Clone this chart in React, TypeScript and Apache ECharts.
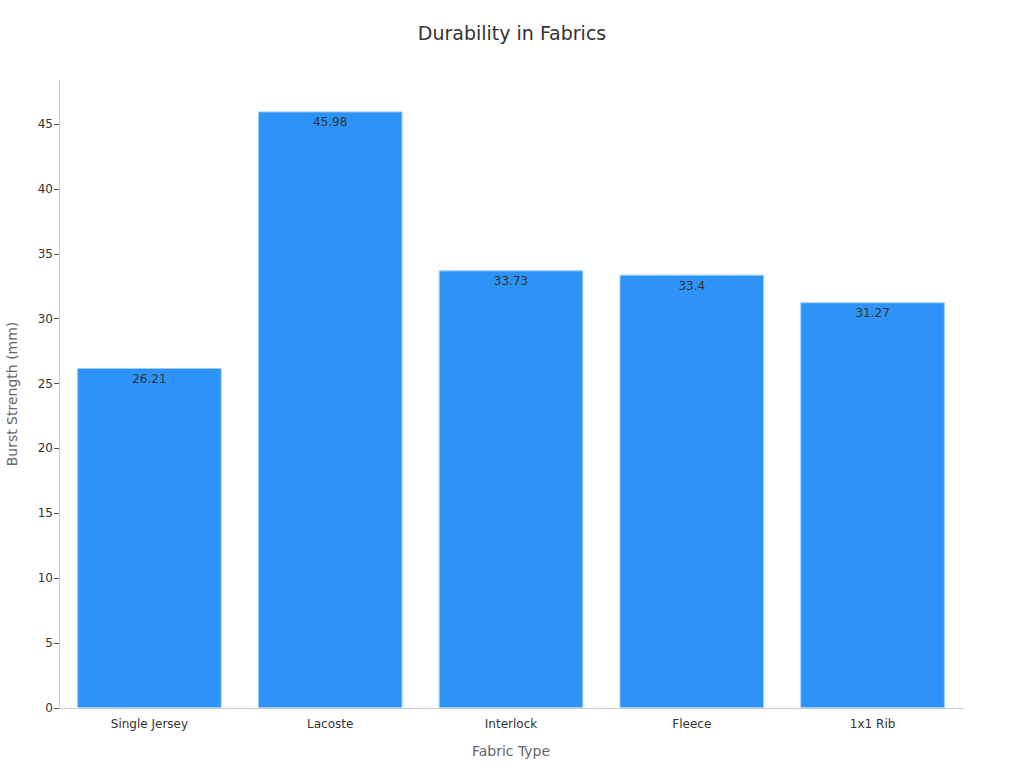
import React, { useEffect, useRef } from "react";
import * as echarts from "echarts";

const categories = ["Single Jersey", "Lacoste", "Interlock", "Fleece", "1x1 Rib"];
const burstStrength = [26.21, 45.98, 33.73, 33.4, 31.27];

export default function App() {
  const ref = useRef<HTMLDivElement>(null);
  useEffect(() => {
    document.body.style.margin = "0";
    if (!ref.current) return;
    const chart = echarts.init(ref.current, undefined, { renderer: "svg" });
    chart.setOption({
      animation: false,
      textStyle: { fontFamily: "DejaVu Sans" },
      title: {
        text: "Durability in Fabrics",
        left: "center",
        top: 18,
        textStyle: { fontSize: 19, fontWeight: "normal", color: "#333", fontFamily: "DejaVu Sans" },
      },
      grid: { left: 59, right: 61, top: 80, bottom: 60, containLabel: false, outerBoundsMode: "none" },
      xAxis: {
        type: "category",
        data: categories,
        name: "Fabric Type",
        nameLocation: "middle",
        nameGap: 36,
        nameTextStyle: { fontSize: 14, color: "#666" },
        axisLine: { lineStyle: { color: "#ccc" } },
        axisTick: { alignWithLabel: true, length: 5, lineStyle: { color: "#555" } },
        axisLabel: { fontSize: 12, color: "#333", margin: 10 },
      },
      yAxis: {
        type: "value",
        min: 0,
        max: 48.4,
        interval: 5,
        name: "Burst Strength (mm)",
        nameLocation: "middle",
        nameGap: 40,
        nameTextStyle: { fontSize: 14, color: "#666" },
        splitLine: { show: false },
        axisLine: { show: true, lineStyle: { color: "#ccc" } },
        axisTick: { show: true, length: 5, lineStyle: { color: "#555" } },
        axisLabel: { fontSize: 12, color: "#333", showMaxLabel: false, margin: 6 },
      },
      series: [
        {
          type: "bar",
          data: burstStrength,
          barCategoryGap: "20%",
          itemStyle: { color: "#2E93F7", borderColor: "#9ECFFA", borderWidth: 1 },
          label: {
            show: true,
            position: "insideTop",
            distance: 5,
            color: "#333",
            fontSize: 12,
          },
        },
      ],
    });
    return () => chart.dispose();
  }, []);
  return <div ref={ref} style={{ width: 1024, height: 768 }} />;
}
